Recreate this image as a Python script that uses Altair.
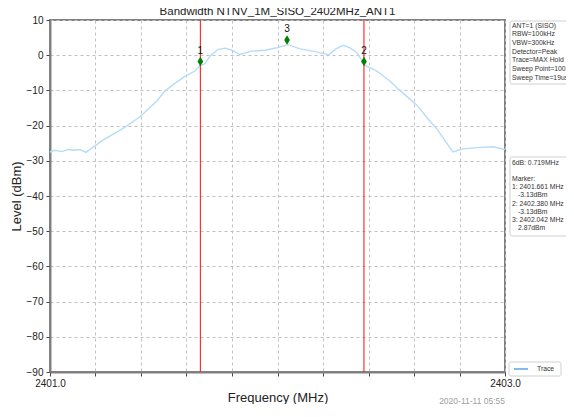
import altair as alt
import pandas as pd

# ---- data ----
freq_mhz = [2401.000, 2401.022, 2401.053, 2401.079, 2401.110, 2401.132, 2401.158,
            2401.231, 2401.316, 2401.396, 2401.440, 2401.470, 2401.505, 2401.549,
            2401.593, 2401.637, 2401.659, 2401.681, 2401.703, 2401.738, 2401.769,
            2401.800, 2401.835, 2401.879, 2401.945, 2401.998, 2402.046, 2402.099,
            2402.165, 2402.226, 2402.257, 2402.288, 2402.319, 2402.349, 2402.385,
            2402.437, 2402.495, 2402.538, 2402.613, 2402.660, 2402.701, 2402.771,
            2402.815, 2402.890, 2402.947, 2403.000]
level_dbm = [-27.5, -27.0, -27.4, -26.8, -27.0, -26.8, -27.6,
             -24.2, -21.0, -17.5, -14.8, -13.0, -10.2, -8.0,
             -6.0, -4.5, -3.0, -2.4, -0.3, 1.6, 2.0,
             1.4, 0.2, 1.1, 1.4, 2.1, 3.0, 1.8,
             1.0, 0.1, 1.8, 2.8, 2.1, 0.7, -2.9,
             -4.5, -7.4, -10.0, -14.2, -18.0, -21.0, -27.5,
             -26.6, -26.2, -26.0, -26.8]

marker_ids = ["1", "2", "3"]
marker_freq = [2401.661, 2402.380, 2402.042]
marker_level = [-1.8, -1.8, 4.3]
redline_freq = [2401.661, 2402.380]

info_lines = ["ANT=1 (SISO)", "RBW=100kHz", "VBW=300kHz", "Detector=Peak",
              "Trace=MAX Hold", "Sweep Point=1001", "Sweep Time=19us"]
marker_lines = ["6dB: 0.719MHz", "", "Marker:", "1: 2401.661 MHz", "  -3.13dBm",
                "2: 2402.380 MHz", "  -3.13dBm", "3: 2402.042 MHz", "  2.87dBm"]

x_ticks = [2401.0, 2401.2, 2401.4, 2401.6, 2401.8, 2402.0,
           2402.2, 2402.4, 2402.6, 2402.8, 2403.0]
y_ticks = [10, 0, -10, -20, -30, -40, -50, -60, -70, -80, -90]

TITLE = "Bandwidth NTNV_1M_SISO_2402MHz_ANT1"
DATE = "2020-11-11 05:55"

FONT = "Liberation Sans"
W, H = 455, 352

trace = pd.DataFrame({"f": freq_mhz, "lvl": level_dbm})
markers = pd.DataFrame({"id": marker_ids, "f": marker_freq, "lvl": marker_level})
reds = pd.DataFrame({"f": redline_freq})

xscale = alt.Scale(domain=[2401.0, 2403.0], nice=False, zero=False)
yscale = alt.Scale(domain=[-90, 10], nice=False, zero=False)

xaxis = alt.Axis(values=x_ticks, title="Frequency (MHz)",
                 labelExpr="(abs(datum.value-2401)<0.001 || abs(datum.value-2403)<0.001) ? format(datum.value, '.1f') : ''",
                 grid=True, gridDash=[3, 3], gridColor="#c0c0c0",
                 tickSize=4, tickColor="#444", domainColor="#808080", domainWidth=2,
                 labelFontSize=10, labelColor="#222", labelPadding=2, labelOverlap=False,
                 titleFontSize=13, titleFontWeight="normal", titlePadding=3, titleColor="#222",
                 labelFlush=False)
yaxis = alt.Axis(values=y_ticks, title="Level (dBm)", format="d",
                 grid=True, gridDash=[3, 3], gridColor="#c0c0c0",
                 tickSize=4, tickColor="#444", domainColor="#808080", domainWidth=2,
                 labelFontSize=10, labelColor="#222", labelPadding=3, labelOverlap=False,
                 labelFlush=False, labelBound=False,
                 titleFontSize=13, titleFontWeight="normal", titlePadding=3, titleColor="#222")

X = alt.X("f:Q", scale=xscale, axis=xaxis, title="Frequency (MHz)")
Y = alt.Y("lvl:Q", scale=yscale, axis=yaxis, title="Level (dBm)")

line = alt.Chart(trace).mark_line(color="#b6dcf8", strokeWidth=1.4).encode(x=X, y=Y)

rules = alt.Chart(reds).mark_rule(strokeWidth=1.1).encode(
    x=X, color=alt.value("#ff2020"))

pts = alt.Chart(markers).mark_point(
    shape="M-0.6,0L0,-1L0.6,0L0,1Z", filled=True, size=90, opacity=1).encode(
    x=X, y=Y, color=alt.value("#008000"))

lbls = alt.Chart(markers).mark_text(font=FONT, fontSize=10, dy=-11).encode(
    x=X, y=Y, text="id:N", color=alt.value("#111"))

layers = [line, rules, pts, lbls]

one = pd.DataFrame({"a": [0]})


def txt(s, x, y, size=6.8, color="#333", align="left"):
    return alt.Chart(pd.DataFrame({"t": [s]})).mark_text(
        font=FONT, fontSize=size, align=align, baseline="middle").encode(
        x=alt.value(x), y=alt.value(y), text="t:N", color=alt.value(color))


def box(x1, x2, y1, y2):
    return alt.Chart(one).mark_rect(
        fill="white", stroke="#d0d0d0", strokeWidth=1, cornerRadius=2).encode(
        x=alt.value(x1), x2=alt.value(x2), y=alt.value(y1), y2=alt.value(y2))


# title as text
layers.append(txt(TITLE, W / 2, -8, size=11.5, color="#222", align="center"))

# info box
layers.append(box(460, 518, 1, 64))
for k, s in enumerate(info_lines):
    layers.append(txt(s, 462, 5.5 + k * 8.7))

# marker box
layers.append(box(460, 518, 137, 216))
for k, s in enumerate(marker_lines):
    if s.strip():
        indent = 6 if s.startswith(" ") else 0
        layers.append(txt(s.strip(), 462 + indent, 143 + k * 8.1))

# legend
layers.append(box(459, 511, 342, 356))
layers.append(alt.Chart(pd.DataFrame({"b": [1]})).mark_rule(strokeWidth=1.5).encode(
    x=alt.value(464), x2=alt.value(478), y=alt.value(349), color=alt.value("#5aa5e6")))
layers.append(txt("Trace", 487, 349))

# date stamp
layers.append(txt(DATE, 455, 381, size=8.5, color="#a0a0a0", align="right"))

chart = alt.layer(*layers).properties(
    width=W, height=H,
    autosize=alt.AutoSizeParams(type="none"),
    padding={"left": 42, "top": 12, "right": 61, "bottom": 32},
).configure(font=FONT).configure_axis(labelOverlap=False).configure_view(
    stroke="#808080", strokeWidth=2)

chart.save("out.html", embed_options={"renderer": "svg", "actions": False})
